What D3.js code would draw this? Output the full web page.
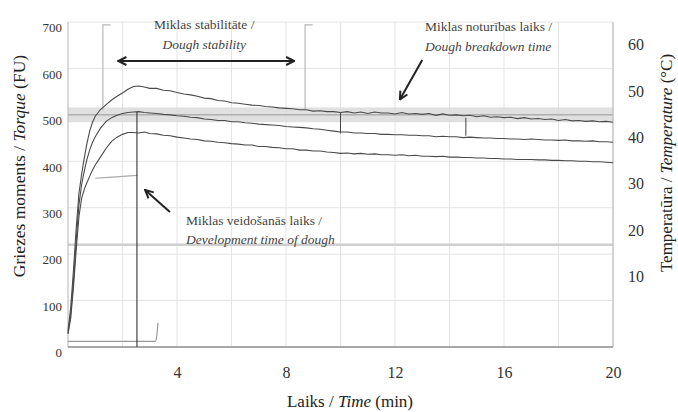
<!DOCTYPE html>
<html>
<head>
<meta charset="utf-8">
<script src="https://cdn.jsdelivr.net/npm/d3@7"></script>
<style>
  body { margin: 0; background: #fff; }
  svg text { font-family: "Liberation Serif", "DejaVu Serif", serif; }
</style>
</head>
<body>
<div id="chart"></div>
<script>
// time axis (min) shared by the three torque curves
const times = [0, 0.1, 0.2, 0.3, 0.4, 0.5, 0.6, 0.7, 0.8, 0.9, 1.0, 1.2, 1.4, 1.6, 1.8, 2.0, 2.2, 2.4, 2.6, 2.8, 3.0,
  3.25, 3.5, 3.75, 4, 4.25, 4.5, 4.75, 5, 5.25, 5.5, 5.75, 6, 6.25, 6.5, 6.75, 7, 7.25, 7.5, 7.75, 8, 8.25, 8.5, 8.75, 9, 9.25, 9.5, 9.75, 10,
  10.25, 10.5, 10.75, 11, 11.25, 11.5, 11.75, 12,
  12.25, 12.5, 12.75, 13, 13.25, 13.5, 13.75, 14, 14.25, 14.5, 14.75,
  15, 15.25, 15.5, 15.75, 16, 16.25, 16.5, 16.75, 17,
  17.25, 17.5, 17.75, 18, 18.25, 18.5, 18.75, 19, 19.25, 19.5, 19.75, 20];

const torqueTop = [35, 85, 165, 255, 330, 372, 408, 440, 466, 484, 497, 512, 522, 532, 540, 547, 555, 561, 562, 560, 557,
  557, 553, 552, 548, 545, 543, 540, 536, 535, 531, 530, 526, 525, 523, 521, 520, 518, 517, 515, 514, 513, 511, 511, 508, 509, 507, 507, 505,
  507, 504, 506, 503, 506, 504, 504, 502,
  505, 502, 503, 501, 503, 499, 502, 499, 500, 498, 499,
  496, 498, 495, 496, 494, 495, 492, 494, 491,
  492, 490, 491, 488, 490, 487, 488, 486, 487, 485, 486, 484];

const torqueMid = [30, 72, 142, 228, 305, 350, 380, 405, 425, 441, 453, 472, 486, 494, 499, 503, 505, 506, 507, 505, 504,
  503, 501, 500, 498, 497, 495, 494, 491, 490, 488, 488, 485, 485, 483, 482, 480, 479, 478, 477, 475, 474, 473, 472, 470, 469, 467, 465, 463,
  463, 461, 461, 460, 460, 458, 458, 457,
  457, 456, 456, 455, 455, 453, 454, 453, 453, 451, 452,
  451, 450, 450, 449, 449, 448, 448, 447, 448,
  447, 446, 446, 445, 446, 444, 444, 443, 444, 442, 442, 441];

const torqueLow = [28, 62, 128, 208, 280, 320, 340, 355, 368, 381, 392, 410, 428, 443, 452, 458, 462, 462, 461, 463, 460,
  459, 456, 455, 452, 450, 448, 447, 444, 443, 441, 440, 438, 437, 435, 435, 432, 432, 430, 429, 427, 427, 424, 424, 422, 422, 420, 419, 417,
  418, 416, 417, 415, 416, 414, 414, 413,
  414, 412, 413, 411, 411, 410, 411, 409, 409, 408, 408,
  407, 407, 406, 406, 405, 405, 404, 404, 404,
  403, 403, 402, 402, 401, 401, 400, 400, 399, 399, 398, 397];

// dough temperature trace (°C)
const tempTimes = [1.0, 1.5, 2.0, 2.55];
const tempValues = [31.2, 31.4, 31.6, 31.8];

// low trace near the bottom (FU)
const baseTimes = [0, 1, 2, 3.2, 3.26, 3.3];
const baseValues = [12, 12, 12, 12, 25, 52];

// markers
const stabilityTimes = [1.28, 8.7];
const devTime = 2.53;
const extraMarkers = [{ t: 10, from: 505, to: 460 }, { t: 14.6, from: 494, to: 455 }];
const bandRange = [484, 516];

const yTicks = [0, 100, 200, 300, 400, 500, 600, 700];
const xTicks = [4, 8, 12, 16, 20];
const tTicks = [10, 20, 30, 40, 50, 60];

const W = 678, H = 412;
const FONT = "Liberation Serif";
const svg = d3.select("#chart").append("svg").attr("width", W).attr("height", H)
  .attr("font-family", FONT);

const x = d3.scaleLinear().domain([0, 20]).range([68, 613]);
const y = d3.scaleLinear().domain([0, 700]).range([347, 22]);
const yT = d3.scaleLinear().domain([0, 65]).range([323, 21.4]);

// grid
svg.append("g").selectAll("line").data(d3.range(2, 20, 2)).enter().append("line")
  .attr("x1", d => x(d)).attr("x2", d => x(d)).attr("y1", y(700)).attr("y2", y(0))
  .attr("stroke", "#e4e4e4").attr("stroke-width", 1);
svg.append("g").selectAll("line").data(yTicks.slice(1)).enter().append("line")
  .attr("x1", x(0)).attr("x2", x(20)).attr("y1", d => y(d)).attr("y2", d => y(d))
  .attr("stroke", "#e4e4e4").attr("stroke-width", 1);

// thick light reference line
svg.append("line").attr("x1", x(0)).attr("x2", x(20)).attr("y1", y(220)).attr("y2", y(220))
  .attr("stroke", "#cfcfcf").attr("stroke-width", 2.5);

// 500 FU band
svg.append("rect").attr("x", x(0)).attr("width", x(20) - x(0))
  .attr("y", y(bandRange[1])).attr("height", y(bandRange[0]) - y(bandRange[1]))
  .attr("fill", "#d8d8d8").attr("opacity", 0.8);
svg.append("line").attr("x1", x(0)).attr("x2", x(20)).attr("y1", y(500)).attr("y2", y(500))
  .attr("stroke", "#999").attr("stroke-width", 1);

// frame
svg.append("line").attr("x1", x(0)).attr("x2", x(0)).attr("y1", y(700)).attr("y2", y(0)).attr("stroke", "#b5b5b5");
svg.append("line").attr("x1", x(20)).attr("x2", x(20)).attr("y1", y(700)).attr("y2", y(0)).attr("stroke", "#c5c5c5").attr("stroke-width", 1.5);
svg.append("line").attr("x1", x(0)).attr("x2", x(20)).attr("y1", y(0)).attr("y2", y(0)).attr("stroke", "#a8a8a8").attr("stroke-width", 2);

// stability brackets
stabilityTimes.forEach(t => {
  svg.append("path")
    .attr("d", `M${x(t + 0.28)},${y(694)}H${x(t)}V${y(510)}`)
    .attr("fill", "none").attr("stroke", "#b8b8b8").attr("stroke-width", 1.2);
});

// curves
const line = d3.line().x(d => x(d[0])).y(d => y(d[1]));
[torqueLow, torqueMid, torqueTop].forEach(vals => {
  svg.append("path").datum(times.map((t, i) => [t, vals[i]]))
    .attr("d", line).attr("fill", "none").attr("stroke", "#4a4a4a").attr("stroke-width", 1.1);
});

// temperature trace
svg.append("path").datum(tempTimes.map((t, i) => [t, tempValues[i]]))
  .attr("d", d3.line().x(d => x(d[0])).y(d => yT(d[1])))
  .attr("fill", "none").attr("stroke", "#aaa").attr("stroke-width", 1.2);

// bottom trace
svg.append("path").datum(baseTimes.map((t, i) => [t, baseValues[i]]))
  .attr("d", d3.line().curve(d3.curveMonotoneX).x(d => x(d[0])).y(d => y(d[1])))
  .attr("fill", "none").attr("stroke", "#999").attr("stroke-width", 1.2);

// development time marker
svg.append("line").attr("x1", x(devTime)).attr("x2", x(devTime)).attr("y1", y(506)).attr("y2", y(0))
  .attr("stroke", "#333").attr("stroke-width", 1.1);
extraMarkers.forEach(m => {
  svg.append("line").attr("x1", x(m.t)).attr("x2", x(m.t)).attr("y1", y(m.from)).attr("y2", y(m.to))
    .attr("stroke", "#444").attr("stroke-width", 1);
});

// arrow heads
const defs = svg.append("defs");
defs.append("marker").attr("id", "head").attr("viewBox", "0 0 10 10")
  .attr("refX", 9).attr("refY", 5).attr("markerWidth", 5).attr("markerHeight", 5)
  .attr("orient", "auto-start-reverse").attr("markerUnits", "strokeWidth")
  .append("path").attr("d", "M1,1L9,5L1,9").attr("fill", "none").attr("stroke", "#222").attr("stroke-width", 2);

svg.append("line").attr("x1", x(1.85)).attr("x2", x(8.3)).attr("y1", y(616)).attr("y2", y(616))
  .attr("stroke", "#222").attr("stroke-width", 2)
  .attr("marker-start", "url(#head)").attr("marker-end", "url(#head)");
svg.append("line").attr("x1", x(13.0)).attr("x2", x(12.18)).attr("y1", y(618)).attr("y2", y(533))
  .attr("stroke", "#222").attr("stroke-width", 2).attr("marker-end", "url(#head)");
svg.append("line").attr("x1", x(3.74)).attr("x2", x(2.83)).attr("y1", y(291)).attr("y2", y(338))
  .attr("stroke", "#222").attr("stroke-width", 2).attr("marker-end", "url(#head)");

// annotation text
function note(t, v, anchor, upright, italic) {
  const g = svg.append("text").attr("x", x(t)).attr("text-anchor", anchor)
    .attr("font-family", FONT).attr("font-size", 13.5).attr("fill", "#444");
  g.append("tspan").attr("x", x(t)).attr("y", y(v[0])).text(upright);
  g.append("tspan").attr("x", x(t)).attr("y", y(v[1])).attr("font-style", "italic").text(italic);
}
note(5.0, [685, 642], "middle", "Miklas stabilitāte /", "Dough stability");
note(13.1, [681, 638], "start", "Miklas noturības laiks /", "Dough breakdown time");
note(4.33, [262, 221], "start", "Miklas veidošanās laiks /", "Development time of dough");

// axes
const axL = svg.append("g").attr("transform", `translate(${x(0)},0)`)
  .call(d3.axisLeft(y).tickValues(yTicks).tickSize(0).tickPadding(6))
  .attr("font-family", FONT);
axL.select(".domain").remove();
axL.selectAll("text").attr("font-size", 13).attr("fill", "#333").attr("dy", "0.75em");

const axR = svg.append("g").attr("transform", `translate(${x(20)},0)`)
  .call(d3.axisRight(yT).tickValues(tTicks).tickSize(0).tickPadding(15))
  .attr("font-family", FONT);
axR.select(".domain").remove();
axR.selectAll("text").attr("font-size", 16).attr("fill", "#333");

const axB = svg.append("g").attr("transform", `translate(0,${y(0)})`)
  .call(d3.axisBottom(x).tickValues(xTicks).tickSize(0).tickPadding(20))
  .attr("font-family", FONT);
axB.select(".domain").remove();
axB.selectAll("text").attr("font-size", 16).attr("fill", "#333");

// axis titles
const tl = svg.append("text").attr("transform", "translate(25,166) rotate(-90)")
  .attr("text-anchor", "middle").attr("font-size", 17.5).attr("fill", "#222");
tl.append("tspan").text("Griezes moments / ");
tl.append("tspan").attr("font-style", "italic").text("Torque");
tl.append("tspan").text(" (FU)");

const tr = svg.append("text").attr("transform", "translate(672,163) rotate(-90)")
  .attr("text-anchor", "middle").attr("font-size", 17).attr("fill", "#222");
tr.append("tspan").text("Temperatūra / ");
tr.append("tspan").attr("font-style", "italic").text("Temperature");
tr.append("tspan").text(" (°C)");

const tb = svg.append("text").attr("x", 350).attr("y", 407)
  .attr("text-anchor", "middle").attr("font-size", 17).attr("fill", "#222");
tb.append("tspan").text("Laiks / ");
tb.append("tspan").attr("font-style", "italic").text("Time");
tb.append("tspan").text(" (min)");
</script>
</body>
</html>
